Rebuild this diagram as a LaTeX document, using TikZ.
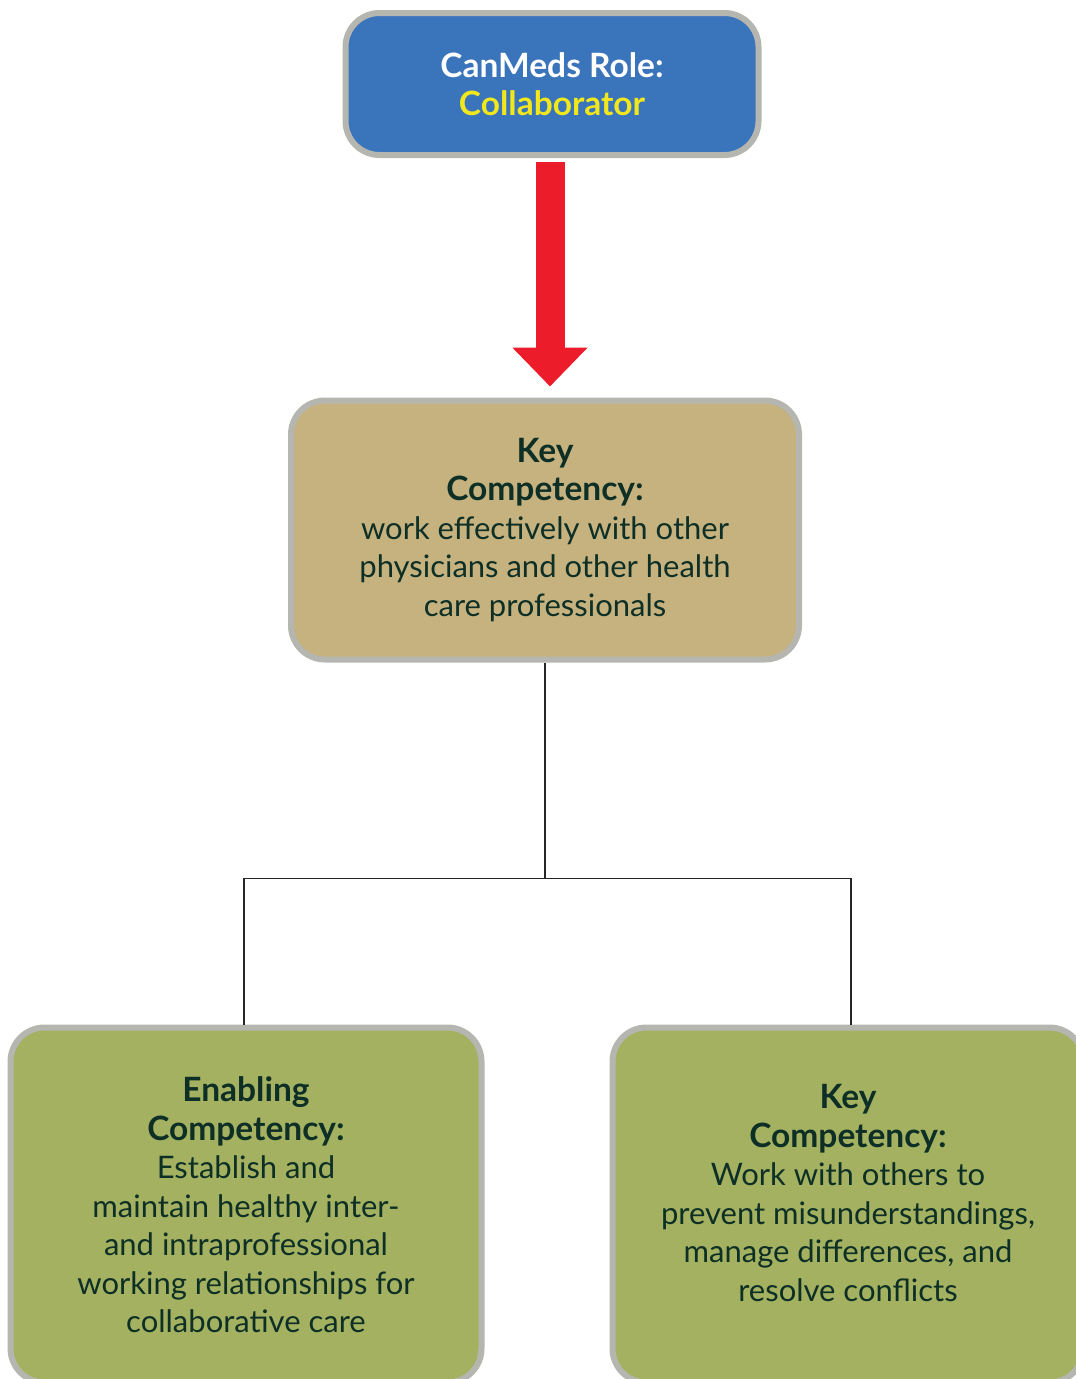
\documentclass[tikz,border=0pt]{standalone}
\usepackage{fontspec}
\setmainfont{Lato}
\usetikzlibrary{arrows.meta,positioning,calc}
\definecolor{roleblue}{HTML}{3A74BA}
\definecolor{keytan}{HTML}{C5B27E}
\definecolor{leafgreen}{HTML}{A3B160}
\definecolor{edgegray}{HTML}{B6B6B1}
\definecolor{inkgreen}{HTML}{0E2F26}
\definecolor{rolered}{HTML}{EC1C2A}
\definecolor{roleyellow}{HTML}{F2E61C}
\newcommand{\cardhead}[1]{{\fontsize{33.5}{38.5}\selectfont\bfseries #1}}
\tikzset{
  cardbox/.style={draw=edgegray,line width=6pt,rounded corners=34pt,align=center,
    text=inkgreen,font=\fontsize{31}{38.5}\selectfont},
  treeline/.style={draw=black!85,line width=1.2pt}
}
\begin{document}
\begin{tikzpicture}[x=1pt,y=-1pt]
    \useasboundingbox (0,0) rectangle (1076,1379);
    \clip (0,0) rectangle (1076,1379);
    \node[cardbox,fill=roleblue,minimum width=413,minimum height=142,text=white] (role) at (552,84)
      {\cardhead{CanMeds Role:}\\ \cardhead{\color{roleyellow}Collaborator}};
    \node[cardbox,fill=keytan,minimum width=508,minimum height=259] (key) at (545,530)
      {\cardhead{Key}\\ \cardhead{Competency:}\\ work effectively with other\\ physicians and other health\\ care professionals};
    \node[cardbox,fill=leafgreen,minimum width=471,minimum height=355] (enabling) at (246,1205)
      {\cardhead{Enabling}\\ \cardhead{Competency:}\\ Establish and\\ maintain healthy inter-\\ and intraprofessional\\ working relationships for\\ collaborative care};
    \node[cardbox,fill=leafgreen,minimum width=471,minimum height=355] (keytwo) at (848,1205)
      {\cardhead{Key}\\ \cardhead{Competency:}\\ Work with others to\\ prevent misunderstandings,\\ manage differences, and\\ resolve conflicts\\[-14pt]};
    % red arrow
    \draw[rolered,line width=29pt,-{Triangle[length=39pt,width=73pt]},shorten <=4pt,shorten >=11pt]
      ([xshift=-2pt]role.south) -- ([xshift=-2pt]role.south |- key.north);
    % tree
    \coordinate (split) at ($(key.south)+(0,216)$);
    \draw[treeline] (key.south) -- (split);
    \draw[treeline] ([xshift=-2pt]enabling.north) |- (split) -| ([xshift=3pt]keytwo.north);
\end{tikzpicture}
\end{document}
